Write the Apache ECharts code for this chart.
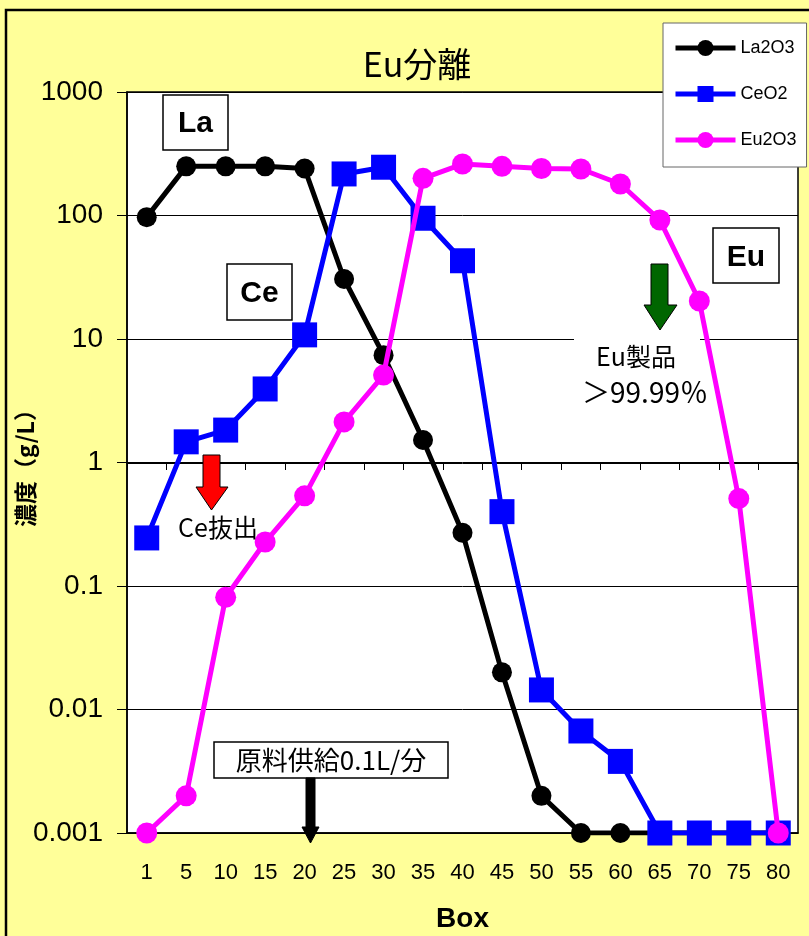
<!DOCTYPE html>
<html>
<head>
<meta charset="utf-8">
<script src="https://cdn.jsdelivr.net/npm/echarts@6/dist/echarts.min.js"></script>
<style>
  html, body { margin: 0; padding: 0; background: #ffffff; }
  #chart { width: 809px; height: 936px; }
</style>
</head>
<body>
<div id="chart"></div>
<script>
// Box numbers along the separation cascade
const boxes = ['1', '5', '10', '15', '20', '25', '30', '35', '40', '45', '50', '55', '60', '65', '70', '75', '80'];

// Concentrations (g/L) per box
const la2o3 = [97, 250, 250, 250, 240, 30.6, 7.4, 1.52, 0.27, 0.020, 0.002, 0.001, 0.001, 0.001, 0.001, 0.001, 0.001];
const ceo2  = [0.245, 1.47, 1.83, 3.94, 10.8, 217, 246, 95, 43, 0.40, 0.0144, 0.0067, 0.0038, 0.001, 0.001, 0.001, 0.001];
const eu2o3 = [0.001, 0.002, 0.081, 0.227, 0.537, 2.13, 5.1, 200, 261, 250, 240, 238, 180, 92, 20.3, 0.51, 0.001];

// Decade tick labels of the log axis
const yTicks = { 1000: '1000', 100: '100', 10: '10', 1: '1', 0.1: '0.1', 0.01: '0.01', 0.001: '0.001' };

const JP = '"Noto Sans CJK JP", "Noto Sans", sans-serif';
const LAT = '"Liberation Sans", Arial, sans-serif';
const NARROW = '"Liberation Sans Narrow", "Liberation Sans", Arial, sans-serif';

const chart = echarts.init(document.getElementById('chart'));

function labelFor(v) {
  const keys = Object.keys(yTicks);
  for (const k of keys) {
    if (Math.abs(Math.log10(v) - Math.log10(Number(k))) < 1e-6) return yTicks[k];
  }
  return '';
}

const option = {
  backgroundColor: '#ffff99',
  animation: false,
  title: {
    text: 'Eu分離',
    left: 412,
    top: 42,
    textAlign: 'center',
    textStyle: { fontFamily: JP, fontSize: 34, fontWeight: 'normal', color: '#000' }
  },
  legend: {
    orient: 'vertical',
    left: 663,
    top: 23,
    width: 143,
    backgroundColor: '#ffffff',
    borderColor: '#666',
    borderWidth: 1,
    padding: [16, 10, 18, 10],
    itemGap: 28,
    itemWidth: 60,
    itemHeight: 20,
    lineStyle: { width: 5 },
    textStyle: { fontFamily: LAT, fontSize: 18, color: '#000' },
    data: ['La2O3', 'CeO2', 'Eu2O3']
  },
  grid: {
    left: 127,
    top: 92,
    right: 11,
    bottom: 103,
    containLabel: false,
    outerBoundsMode: 'none',
    show: true,
    backgroundColor: '#ffffff',
    borderColor: '#000',
    borderWidth: 1.5
  },
  xAxis: [
    {
      type: 'category',
      data: boxes,
      boundaryGap: true,
      name: 'Box',
      nameLocation: 'middle',
      nameGap: 72,
      nameMoveOverlap: false,
      nameTextStyle: { fontFamily: LAT, fontSize: 28, fontWeight: 'bold', color: '#000' },
      axisLine: { show: true, lineStyle: { color: '#000', width: 1.5 } },
      axisTick: { show: false },
      axisLabel: { margin: 29, fontFamily: NARROW, fontSize: 22, color: '#000' }
    },
    {
      // category axis crossing the value axis at 1
      type: 'category',
      data: boxes,
      boundaryGap: true,
      position: 'bottom',
      offset: -370,
      axisLine: { show: true, lineStyle: { color: '#000', width: 1 } },
      axisTick: { show: true, inside: false, length: 7, lineStyle: { color: '#000', width: 1 } },
      axisLabel: { show: false }
    }
  ],
  yAxis: {
    type: 'log',
    logBase: 10,
    min: 0.001,
    max: 1000,
    name: '濃度（g/L）',
    nameLocation: 'middle',
    nameGap: 90,
    nameMoveOverlap: false,
    nameRotate: 90,
    nameTextStyle: { fontFamily: JP, fontSize: 23, fontWeight: 'bold', color: '#000' },
    axisLine: { show: true, lineStyle: { color: '#000', width: 1.5 } },
    axisTick: { show: true, inside: false, length: 10, lineStyle: { color: '#000' } },
    splitLine: { show: true, lineStyle: { color: '#000', width: 1 } },
    axisLabel: {
      margin: 24,
      fontFamily: LAT,
      fontSize: 28,
      color: '#000',
      formatter: labelFor
    }
  },
  series: [
    {
      name: 'La2O3',
      type: 'line',
      data: la2o3,
      symbol: 'circle',
      symbolSize: 20,
      lineStyle: { color: '#000000', width: 5 },
      itemStyle: { color: '#000000' },
      z: 3
    },
    {
      name: 'CeO2',
      type: 'line',
      data: ceo2,
      symbol: 'rect',
      symbolSize: 25,
      lineStyle: { color: '#0000ff', width: 5 },
      itemStyle: { color: '#0000ff' },
      z: 4
    },
    {
      name: 'Eu2O3',
      type: 'line',
      data: eu2o3,
      symbol: 'circle',
      symbolSize: 21,
      lineStyle: { color: '#ff00ff', width: 5 },
      itemStyle: { color: '#ff00ff' },
      z: 5
    }
  ],
  graphic: [
    // outer frame
    { type: 'rect', shape: { x: 6, y: 10, width: 820, height: 950 }, style: { fill: null, stroke: '#000', lineWidth: 2.5 }, silent: true, z: 1 },
    // element label boxes
    { type: 'rect', shape: { x: 163, y: 95, width: 65, height: 55 }, style: { fill: '#fff', stroke: '#000', lineWidth: 1.5 }, z: 100 },
    { type: 'text', x: 195.5, y: 124, style: { text: 'La', fontFamily: LAT, fontSize: 30, fontWeight: 'bold', fill: '#000', textAlign: 'center', textVerticalAlign: 'middle' }, z: 101 },
    { type: 'rect', shape: { x: 227, y: 264, width: 65, height: 56 }, style: { fill: '#fff', stroke: '#000', lineWidth: 1.5 }, z: 100 },
    { type: 'text', x: 259.5, y: 294, style: { text: 'Ce', fontFamily: LAT, fontSize: 30, fontWeight: 'bold', fill: '#000', textAlign: 'center', textVerticalAlign: 'middle' }, z: 101 },
    { type: 'rect', shape: { x: 713, y: 228, width: 66, height: 55 }, style: { fill: '#fff', stroke: '#000', lineWidth: 1.5 }, z: 100 },
    { type: 'text', x: 746, y: 258, style: { text: 'Eu', fontFamily: LAT, fontSize: 30, fontWeight: 'bold', fill: '#000', textAlign: 'center', textVerticalAlign: 'middle' }, z: 101 },

    // product note
    { type: 'rect', shape: { x: 574, y: 334, width: 126, height: 76 }, style: { fill: '#fff', stroke: null }, z: 100 },
    { type: 'text', x: 636, y: 356, style: { text: 'Eu製品', fontFamily: JP, fontSize: 25, fill: '#000', textAlign: 'center', textVerticalAlign: 'middle' }, z: 101 },
    { type: 'text', x: 645, y: 392, style: { text: '＞99.99％', fontFamily: JP, fontSize: 28, fill: '#000', textAlign: 'center', textVerticalAlign: 'middle' }, z: 101 },
    { type: 'polygon', shape: { points: [[651, 264], [668, 264], [668, 305], [677, 305], [660, 330], [644, 305], [651, 305]] }, style: { fill: '#006600', stroke: '#000', lineWidth: 1 }, z: 101 },

    // Ce draw-off
    { type: 'polygon', shape: { points: [[203, 455], [220, 455], [220, 487], [228, 487], [211.5, 510], [196, 487], [203, 487]] }, style: { fill: '#ff0000', stroke: '#000', lineWidth: 1 }, z: 101 },
    { type: 'text', x: 218, y: 527, style: { text: 'Ce抜出', fontFamily: JP, fontSize: 25, fill: '#000', textAlign: 'center', textVerticalAlign: 'middle' }, z: 101 },

    // feed point
    { type: 'rect', shape: { x: 214, y: 742, width: 234, height: 36 }, style: { fill: '#fff', stroke: '#000', lineWidth: 1.5 }, z: 100 },
    { type: 'text', x: 331, y: 760, style: { text: '原料供給0.1L/分', fontFamily: JP, fontSize: 26, fill: '#000', textAlign: 'center', textVerticalAlign: 'middle' }, z: 101 },
    { type: 'polygon', shape: { points: [[306, 778], [315, 778], [315, 827], [319, 827], [310.5, 843], [302, 827], [306, 827]] }, style: { fill: '#000', stroke: '#000', lineWidth: 1 }, z: 101 }
  ]
};

chart.setOption(option);
</script>
</body>
</html>
